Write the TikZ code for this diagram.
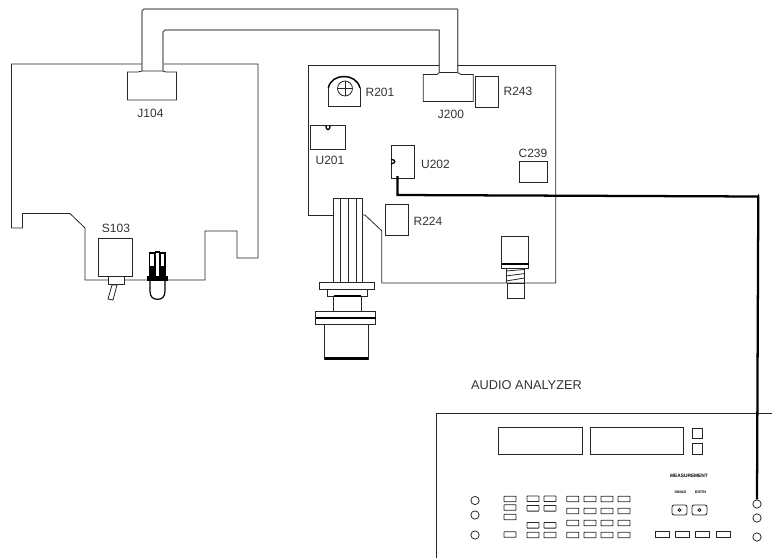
\documentclass[tikz,border=0pt]{standalone}
\usepackage{fontspec}
\setmainfont{Liberation Sans}
\tikzset{
  ln/.style={draw=black!85,line width=0.6pt,line join=miter},
  cable/.style={draw=black!60,line width=1pt,line join=round},
  heavy/.style={draw=black,line width=1.6pt},
  wire/.style={draw=black,line width=1.7pt,line join=miter},
  lbl/.style={font=\fontsize{9}{10}\selectfont,text=black!80,inner sep=0pt},
  hole/.style={ln,circle,inner sep=0pt,minimum size=6.2pt},
  btn/.style={ln,rectangle,rounded corners=0.4pt,inner sep=0pt,minimum width=9pt,minimum height=4.2pt},
  sbtn/.style={ln,rectangle,rounded corners=1.5pt,inner sep=0pt,minimum width=11.2pt,minimum height=7.5pt},
  lbtn/.style={ln,rectangle,inner sep=0pt,minimum width=10.5pt,minimum height=4.5pt}
}
\begin{document}
\begin{tikzpicture}[x=0.75pt,y=-0.75pt]
\useasboundingbox (0,0) rectangle (772,558);
% left board
\draw[ln] (142,64) -- (11.5,64) -- (11.5,228) -- (22.5,228) -- (22.5,213.5) -- (70,213.5) -- (85,228) -- (85,280) -- (205,280) -- (205,231) -- (237,231) -- (237,258) -- (258,258) -- (258,64) -- (163,64);
% J104
\draw[ln] (127.5,72) -- (138,72) -- (142,71) -- (163,71) -- (166,72) -- (176.5,72) -- (176.5,100) -- (127.5,100) -- cycle;
\coordinate (j104a) at (142,71);
\coordinate (j104b) at (163,71);
\node[lbl] (lj104) at (150.5,113.5) {J104};
% J200
\draw[ln] (423.3,74.5) -- (437,74.5) -- (439.3,72.5) -- (457.7,72.5) -- (461,74.5) -- (473.3,74.5) -- (473.3,101.5) -- (423.3,101.5) -- cycle;
\coordinate (j200a) at (457.7,72.5);
\coordinate (j200b) at (439.3,72.5);
\node[lbl] (lj200) at (451,114) {J200};
% ribbon
\draw[cable] (j104a) -- (142,11) -- (144,9) -- (457.7,9) -- (j200a);
\draw[cable] (j104b) -- (163,32) -- (165,30) -- (439.3,30) -- (j200b);
% right board
\draw[ln] (439.3,65.5) -- (308.3,65.5) -- (308.3,215.5) -- (333,215.5);
\draw[ln] (457.7,65.5) -- (555.7,65.5) -- (555.7,283) -- (381.7,283) -- (381.7,230.7) -- (365,215) -- (362.7,215);
% R201
\draw[ln] (328.3,88) -- (328.3,106.3) -- (360,106.3) -- (360,88);
\draw[black,line width=1.1pt] (328.3,88) .. controls (330,80) and (337,76.5) .. (344,76.5) .. controls (351,76.5) and (358,80) .. (360,88);
\node[ln,circle,inner sep=0pt,minimum size=11.2pt] (r201) at (345,88.5) {};
\draw[ln] (r201.north) -- (r201.south) (r201.west) -- (r201.east);
\node[lbl] (lr201) at (380,92.5) {R201};
% R243
\draw[ln] (475.3,76.5) rectangle (498.7,107);
\node[lbl] (lr243) at (518,91.5) {R243};
% U201
\draw[ln] (310.7,125.5) rectangle (345,149);
\draw[black,line width=1pt] (325.8,125.5) .. controls (325.8,131) and (330.2,131) .. (330.2,125.5);
\node[lbl] (lu201) at (330,160) {U201};
% U202
\draw[ln] (391,145) rectangle (414,178);
\draw[black,line width=1pt] (391,159.3) .. controls (396,159.3) and (396,163.7) .. (391,163.7);
\node[lbl] (lu202) at (435.5,164) {U202};
\coordinate (u202pin) at (397.5,176);
% C239
\draw[ln] (519.5,161.5) rectangle (547,182);
\node[lbl] (lc239) at (533,153) {C239};
% R224
\draw[ln] (385.3,204) rectangle (408.3,235.5);
\node[lbl] (lr224) at (428,221) {R224};
% large connector
\draw[ln] (333,282.5) -- (333,198) -- (362.7,198) -- (362.7,282.5);
\draw[ln] (340.5,198) -- (340.5,282.5) (348.5,198) -- (348.5,282.5) (356,198) -- (356,282.5);
\draw[ln] (319.5,282.5) rectangle (374.5,289.5);
\draw[ln] (327,289.5) rectangle (367.5,296);
\draw[ln] (333.5,296) rectangle (361,311);
\draw[black,line width=0.9pt] (333.5,296) -- (361,296);
\draw[ln] (315.5,311) rectangle (375.5,324.5);
\draw[heavy] (315.5,318) -- (375.5,318);
\draw[ln] (324.5,324.5) rectangle (368,359);
\draw[heavy] (324.5,358.5) -- (368,358.5);
% small BNC
\draw[ln] (501.7,236.5) rectangle (528.5,268);
\draw[black,line width=1.1pt] (501.7,264) -- (528.5,264);
\draw[ln] (506,268) -- (506,283) (524.5,268) -- (524.5,283);
\draw[ln] (506,271) -- (524.5,269.5) (506,276) -- (524.5,273.5) (506,281) -- (524.5,278);
\draw[ln] (507.5,283) rectangle (524,298);
% S103
\node[lbl] (ls103) at (116,228) {S103};
\draw[ln] (98.5,276.5) -- (98.5,238.7) -- (132.5,238.7) -- (132.5,276.5) -- (124,276.5);
\draw[ln] (98.5,276.5) -- (108,276.5);
\draw[ln,fill=white] (108,276.5) rectangle (124,284.5);
\draw[ln] (112,285) -- (117,285) -- (113,300) -- (108,299) -- cycle;
% LED
\draw[black,line width=0.9pt,fill=white] (150,280) -- (150,291) .. controls (150,297) and (153,299.3) .. (157.5,299.3) .. controls (162,299.3) and (165,297) .. (165,291) -- (165,280);
\fill[black] (147,276) rectangle (168,281);
\fill[black] (148.5,251.5) -- (156,251.5) -- (156,277) -- (148.5,277) -- cycle;
\fill[black] (158.5,251.5) -- (165.5,251.5) -- (165.5,277) -- (158.5,277) -- cycle;
\fill[white] (150.3,253.5) rectangle (153.7,266);
\fill[white] (161,253.5) rectangle (164,266);
\fill[black] (155,250.5) rectangle (159.5,253);
\fill[white] (155.7,254) -- (158.8,254) -- (158.4,272) -- (157.6,274) -- cycle;
% analyzer
\node[lbl,font=\fontsize{9.6}{11}\selectfont] (laudio) at (526.5,385) {AUDIO ANALYZER};
\draw[ln] (772,413) -- (436,413) -- (436,558);
\draw[ln] (498.5,427.5) rectangle (582,454);
\draw[ln] (590.5,427.5) rectangle (683,454);
\draw[ln] (692,428) rectangle (702,438);
\draw[ln] (692,443) rectangle (702,454);
\foreach \y/\n in {500.5/a,515/b,535/c}{
  \node[hole] (l\n) at (475,\y) {};
}
\node[hole] (ra) at (757,504) {};
\node[hole] (rb) at (757,518) {};
\node[hole] (rc) at (757,537) {};
\foreach \y in {499,507.5,517,534.5}{ \node[btn] at (510,\y) {}; }
\foreach \x in {533,550}{
  \foreach \y in {498.7,508.3,525.3,535}{ \node[btn] at (\x,\y) {}; }
}
\foreach \x in {572.7,590,607,624}{
  \foreach \y in {499,511,523,535}{ \node[btn] at (\x,\y) {}; }
}
\node[inner sep=0pt,font=\bfseries\fontsize{3.6}{4}\selectfont] (lmeas) at (689,476) {MEASUREMENT};
\node[inner sep=0pt,font=\bfseries\fontsize{2.8}{3}\selectfont] (lsinad) at (680.5,492) {SINAD};
\node[inner sep=0pt,font=\bfseries\fontsize{2.8}{3}\selectfont] (ldistn) at (700.5,492) {DISTN};
\foreach \x/\n in {679.5/sa,699.5/sb}{
  \node[sbtn] (\n) at (\x,510) {};
  \node[ln,circle,inner sep=0pt,minimum size=2.2pt] at (\x,510) {};
}
\foreach \x in {662,682,702,723}{ \node[lbtn] at (\x,534.5) {}; }
% test wire
\draw[wire] (u202pin) -- (397.5,195) -- (758.3,196.5) -- (ra.north);
\draw[black,line width=0.9pt] (758.3,194) -- (758.3,197);
\end{tikzpicture}
\end{document}
